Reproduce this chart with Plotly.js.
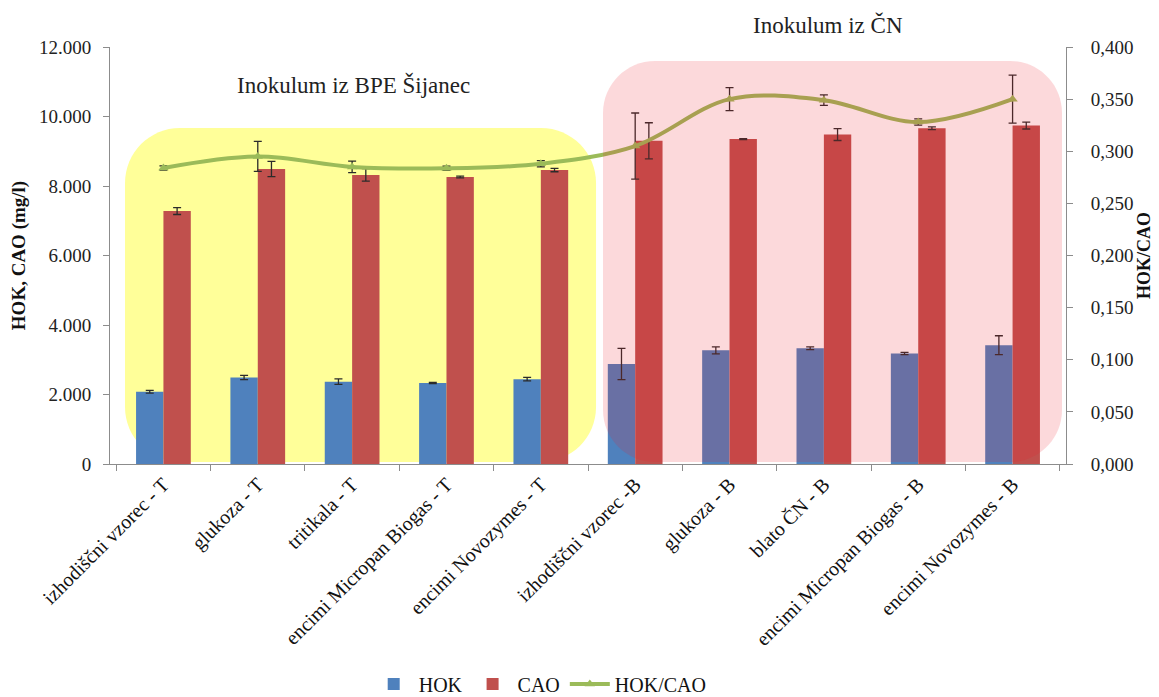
<!DOCTYPE html>
<html>
<head>
<meta charset="utf-8">
<script src="https://cdn.plot.ly/plotly-3.0.1.min.js"></script>
<style>html,body{margin:0;padding:0;background:#fff;overflow:hidden;}#chart{width:1159px;height:697px;}</style>
</head>
<body>
<div id="chart"></div>
<script>
const categories = ["izhodiščni vzorec - T","glukoza - T","tritikala - T","encimi Micropan Biogas - T","encimi Novozymes - T","izhodiščni vzorec -B","glukoza - B","blato ČN - B","encimi Micropan Biogas - B","encimi Novozymes - B"];
const hok = [2080, 2490, 2370, 2330, 2440, 2880, 3270, 3330, 3180, 3420];
const hokErr = [40, 60, 80, 15, 50, 450, 100, 40, 30, 270];
const cao = [7280, 8490, 8320, 8260, 8460, 9300, 9350, 9480, 9660, 9740];
const caoErr = [100, 220, 180, 25, 50, 520, 15, 170, 40, 100];
const ratio = [0.284, 0.295, 0.285, 0.2836, 0.288, 0.305, 0.350, 0.349, 0.328, 0.350];
const ratioErr = [0.002, 0.0144, 0.0055, 0.002, 0.003, 0.0317, 0.011, 0.005, 0.003, 0.023];

const ML = 110, MR = 93, MT = 47, MB = 233, W = 1159, H = 697;
const PW = W - ML - MR, PH = H - MT - MB, PBOT = MT + PH;
function fx(p){ return (p - ML) / PW; }
function fy(p){ return (PBOT - p) / PH; }
function rrPath(x0, y0, x1, y1, r){
  const k = 0.5523 * r;
  const P = (a, b) => fx(a).toFixed(4) + ',' + fy(b).toFixed(4);
  return 'M' + P(x0 + r, y0) +
    ' L' + P(x1 - r, y0) +
    ' C' + P(x1 - r + k, y0) + ' ' + P(x1, y0 + r - k) + ' ' + P(x1, y0 + r) +
    ' L' + P(x1, y1 - r) +
    ' C' + P(x1, y1 - r + k) + ' ' + P(x1 - r + k, y1) + ' ' + P(x1 - r, y1) +
    ' L' + P(x0 + r, y1) +
    ' C' + P(x0 + r - k, y1) + ' ' + P(x0, y1 - r + k) + ' ' + P(x0, y1 - r) +
    ' L' + P(x0, y0 + r) +
    ' C' + P(x0, y0 + r - k) + ' ' + P(x0 + r - k, y0) + ' ' + P(x0 + r, y0) + ' Z';
}

const serif = "Liberation Serif";
const errStyle = {type: 'data', visible: true, color: '#2b2b2b', thickness: 1.3, width: 4};

const traces = [
  {type: 'bar', name: 'HOK', x: categories, y: hok,
   marker: {color: '#4f81bd'},
   error_y: Object.assign({array: hokErr}, errStyle)},
  {type: 'bar', name: 'CAO', x: categories, y: cao,
   marker: {color: '#c0504d'},
   error_y: Object.assign({array: caoErr}, errStyle)},
  {type: 'scatter', mode: 'lines+markers', name: 'HOK/CAO', x: categories, y: ratio, yaxis: 'y2',
   line: {color: '#9bbb59', width: 4, shape: 'spline', smoothing: 1},
   marker: {symbol: 'triangle-up', size: 9, color: '#9bbb59'},
   error_y: Object.assign({array: ratioErr}, errStyle)}
];

const layout = {
  width: W, height: H,
  margin: {l: ML, r: MR, t: MT, b: MB, pad: 0},
  paper_bgcolor: '#ffffff', plot_bgcolor: 'rgba(0,0,0,0)',
  separators: ',.',
  font: {family: serif, size: 18, color: '#222'},
  barmode: 'group', bargap: 0.42, bargroupgap: 0,
  showlegend: true,
  legend: {orientation: 'h', x: 0.45, xanchor: 'center', yref: 'container', y: 1 - 684 / H, yanchor: 'middle',
           font: {family: serif, size: 20, color: '#111'}, traceorder: 'normal', itemwidth: 40},
  xaxis: {type: 'category', showline: true, linecolor: '#8c8c8c', linewidth: 1,
          ticks: 'outside', tickson: 'boundaries', ticklen: 6, tickcolor: '#8c8c8c',
          tickangle: -45, tickfont: {family: serif, size: 20, color: '#111'},
          showgrid: false, zeroline: false, automargin: false},
  yaxis: {range: [0, 12000], dtick: 2000, tickformat: ',.0f', showline: true, linecolor: '#8c8c8c',
          ticks: 'outside', ticklen: 6, tickcolor: '#8c8c8c', showgrid: false, zeroline: false,
          tickfont: {family: serif, size: 19, color: '#222'}, ticklabelstandoff: 8,
          title: {text: '<b>HOK, CAO (mg/l)</b>', font: {family: serif, size: 19, color: '#111'}, standoff: 8},
          automargin: true},
  yaxis2: {range: [0, 0.4], dtick: 0.05, tickformat: '.3f', overlaying: 'y', side: 'right',
           showline: true, linecolor: '#8c8c8c', ticks: 'outside', ticklen: 6, tickcolor: '#8c8c8c',
           showgrid: false, zeroline: false, tickfont: {family: serif, size: 19, color: '#222'}, ticklabelstandoff: 14,
           title: {text: '<b>HOK/CAO</b>', font: {family: serif, size: 18, color: '#111'}, standoff: 4},
           automargin: false},
  shapes: [
    {type: 'path', xref: 'paper', yref: 'paper', layer: 'below',
     path: rrPath(125, 128, 596, 462, 55), fillcolor: '#ffff99', line: {width: 0}},
    {type: 'path', xref: 'paper', yref: 'paper', layer: 'above',
     path: rrPath(603, 61, 1062, 462, 52), fillcolor: 'rgba(235,30,40,0.17)', line: {width: 0}}
  ],
  annotations: [
    {text: 'Inokulum iz BPE Šijanec', xref: 'paper', yref: 'paper', x: fx(353), y: fy(85),
     xanchor: 'center', yanchor: 'middle',
     showarrow: false, font: {family: serif, size: 23, color: '#222'}},
    {text: 'Inokulum iz ČN', xref: 'paper', yref: 'paper', x: fx(828), y: fy(25),
     xanchor: 'center', yanchor: 'middle',
     showarrow: false, font: {family: serif, size: 23, color: '#222'}}
  ]
};

Plotly.newPlot('chart', traces, layout, {staticPlot: true, displayModeBar: false});
</script>
</body>
</html>
